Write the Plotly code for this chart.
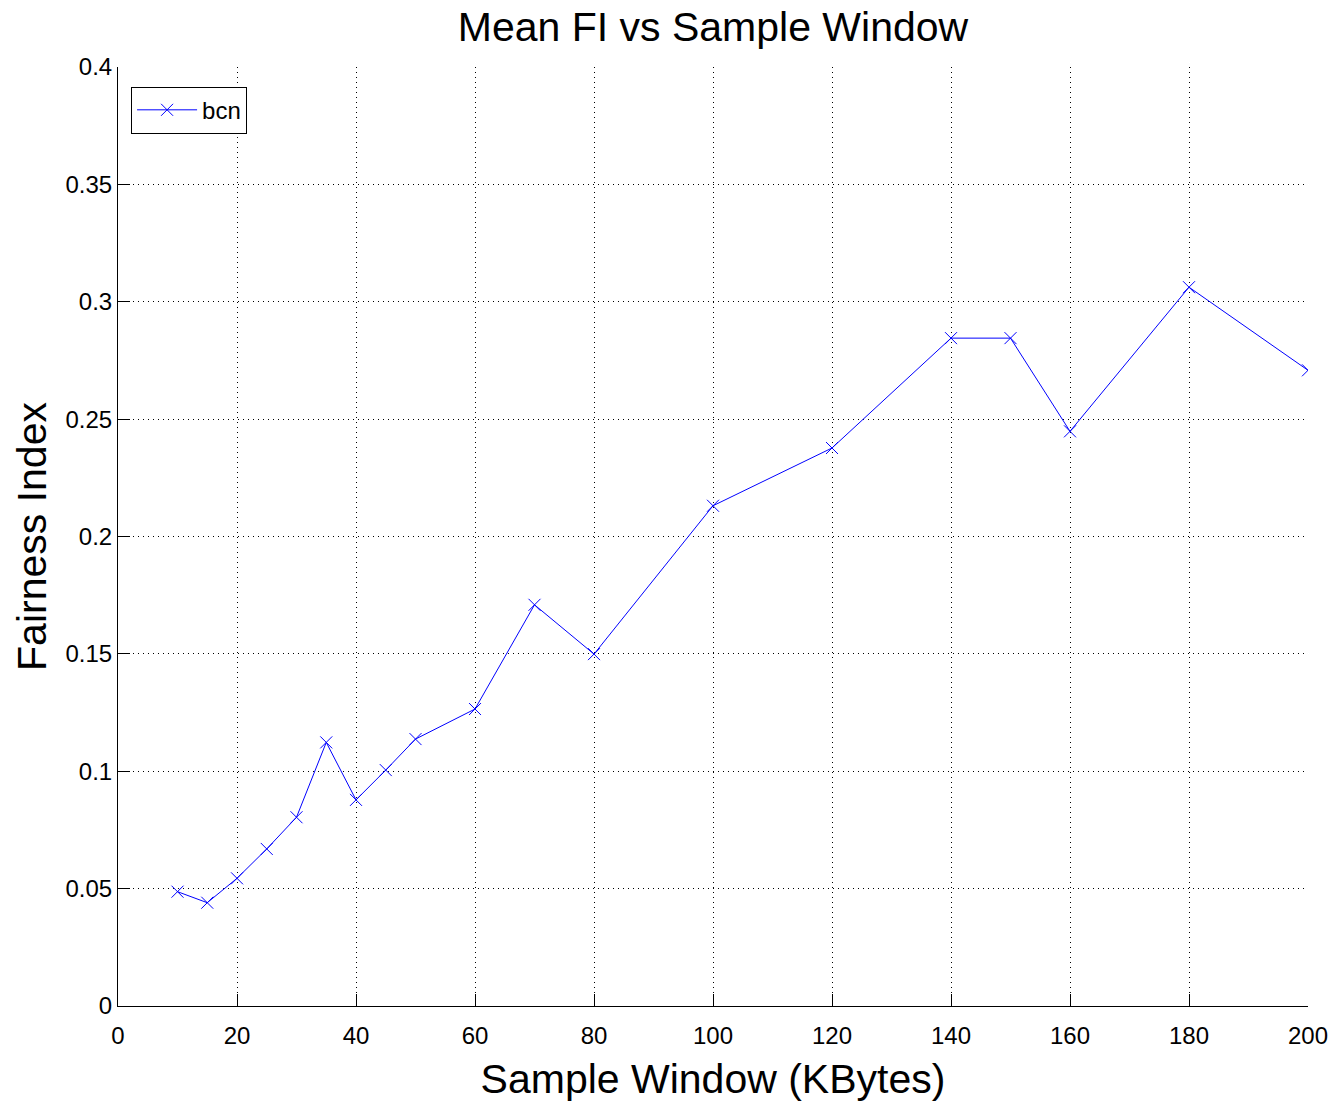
import plotly.graph_objects as go

x_window = [10, 15, 20, 25, 30, 35, 40, 45, 50, 60, 70, 80, 100, 120, 140, 150, 160, 180, 200]
fi_bcn = [0.0487, 0.0440, 0.0544, 0.0669, 0.0804, 0.1123, 0.0878, 0.1005, 0.1137, 0.1265,
          0.1709, 0.1499, 0.2131, 0.2377, 0.2845, 0.2845, 0.2448, 0.3062, 0.2708]

x_ticks = [0, 20, 40, 60, 80, 100, 120, 140, 160, 180, 200]
y_ticks = [0, 0.05, 0.1, 0.15, 0.2, 0.25, 0.3, 0.35, 0.4]
y_ticklabels = ["0", "0.05", "0.1", "0.15", "0.2", "0.25", "0.3", "0.35", "0.4"]

FONT = "Liberation Sans, Arial, sans-serif"

fig = go.Figure()
fig.add_trace(go.Scatter(
    x=x_window, y=fi_bcn, mode="lines+markers", name="bcn",
    line=dict(color="#0000ff", width=1),
    marker=dict(symbol="x-thin", size=12, line=dict(color="#0000ff", width=1)),
))

axis_common = dict(
    showgrid=True, gridcolor="black", gridwidth=1, griddash="1px,4px",
    showline=True, linecolor="black", linewidth=1,
    ticks="inside", ticklen=12, tickcolor="black", tickwidth=1,
    zeroline=False, mirror=False, ticklabeloverflow="allow",
    tickfont=dict(family=FONT, size=24, color="black"),
)

fig.update_layout(
    width=1333, height=1102,
    paper_bgcolor="white", plot_bgcolor="white",
    margin=dict(l=118, r=25, t=67, b=96, autoexpand=False),
    title=dict(text="Mean FI vs Sample Window", xref="paper", x=0.5, xanchor="center",
               y=0.9755, yanchor="middle",
               font=dict(family=FONT, size=41, color="black")),
    xaxis=dict(range=[0, 200], tickvals=x_ticks, ticklabelstandoff=8, automargin=False,
               title=dict(text="Sample Window (KBytes)", font=dict(family=FONT, size=41, color="black"), standoff=19),
               **axis_common),
    yaxis=dict(range=[0, 0.4], tickvals=y_ticks, ticktext=y_ticklabels, automargin=False,
               title=dict(text="Fairness Index", font=dict(family=FONT, size=41, color="black"), standoff=6),
               **axis_common),
    legend=dict(x=0.011, y=0.979, xanchor="left", yanchor="top",
                bgcolor="white", bordercolor="black", borderwidth=1, itemwidth=60,
                font=dict(family=FONT, size=24, color="black")),
    showlegend=True,
)

fig.write_html("out.html", config={"displayModeBar": False},
               post_script="document.body.style.margin='0';document.body.style.overflow='hidden';")
